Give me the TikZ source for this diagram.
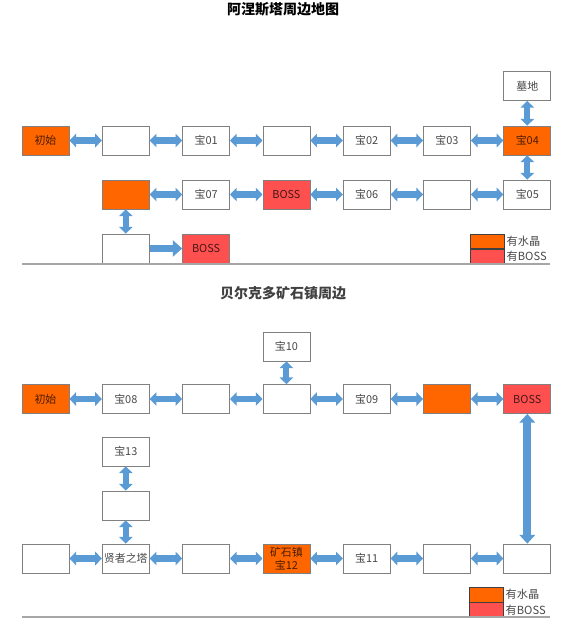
\documentclass[tikz,border=0pt]{standalone}
\usepackage{fontspec}
\usepackage{tikz}
\usetikzlibrary{arrows.meta}
\newfontfamily\cjk{Noto Sans CJK SC}
\definecolor{crystal}{HTML}{FF6600}
\definecolor{bossred}{HTML}{FF5050}
\definecolor{linkblue}{HTML}{5B9BD5}
\definecolor{boxgray}{HTML}{808080}
\definecolor{floorgray}{HTML}{A6A6A6}
\definecolor{titlegray}{HTML}{404040}

\begin{document}
\begin{tikzpicture}[x=0.75pt, y=-0.75pt,
  room/.style={draw=boxgray, line width=0.6pt, fill=white, minimum width=35.25pt, minimum height=21.75pt, inner sep=0pt, font=\cjk\fontsize{8.2}{10}\selectfont, text=black, text opacity=0.72},
  gem/.style={room, fill=crystal},
  boss/.style={room, fill=bossred},
  keybox/.style={draw=titlegray, line width=0.6pt, minimum width=25.5pt, minimum height=10.8pt, inner sep=0pt},
  keytext/.style={anchor=west, inner sep=0pt, font=\cjk\fontsize{8.4}{10}\selectfont, text=black, text opacity=0.72},
  maptitle/.style={font=\cjk\bfseries\fontsize{10.5}{12}\selectfont},
  link/.style={draw=linkblue, line width=4.6pt, {Triangle[width=10pt,length=5pt]}-{Triangle[width=10pt,length=5pt]}},
  push/.style={draw=linkblue, line width=5.4pt, -{Triangle[width=12pt,length=7pt]}},
  bigLink/.style={draw=linkblue, line width=6pt, {Triangle[width=11.5pt,length=6.5pt]}-{Triangle[width=11.5pt,length=6.5pt]}},
  floor/.style={draw=floorgray, line width=1.5pt}]

\useasboundingbox (0,0) rectangle (582,622);

% first map
\node[maptitle] (title1) at (283,9) {阿涅斯塔周边地图};

\node[room] (grave) at (527.3,86) {墓地};

\node[gem]  (a0) at (45.5,140.5) {初始};
\node[room] (a1) at (125.8,140.5) {};
\node[room] (a2) at (206.1,140.5) {宝01};
\node[room] (a3) at (286.4,140.5) {};
\node[room] (a4) at (366.7,140.5) {宝02};
\node[room] (a5) at (447,140.5) {宝03};
\node[gem]  (a6) at (527.3,140.5) {宝04};

\node[gem]  (b1) at (125.8,194.5) {};
\node[room] (b2) at (206.1,194.5) {宝07};
\node[boss] (b3) at (286.4,194.5) {BOSS};
\node[room] (b4) at (366.7,194.5) {宝06};
\node[room] (b5) at (447,194.5) {};
\node[room] (b6) at (527.3,194.5) {宝05};

\node[room] (c1) at (125.8,248.5) {};
\node[boss] (c2) at (206.1,248.5) {BOSS};

\foreach \p/\q in {a0/a1, a1/a2, a2/a3, a3/a4, a4/a5, a5/a6, grave/a6, a6/b6,
                   b6/b5, b5/b4, b4/b3, b3/b2, b2/b1, b1/c1}
  \draw[link] (\p) -- (\q);
\draw[push] (c1) -- (c2);

\node[keybox, fill=crystal] (gemkey1) at (487,241.3) {};
\node[keybox, fill=bossred, anchor=north] (bosskey1) at (gemkey1.south) {};
\node[keytext] at ([xshift=1.5pt]gemkey1.east) {有水晶};
\node[keytext] at ([xshift=1.5pt]bosskey1.east) {有BOSS};

\coordinate (floorL1) at (22,264);
\coordinate (floorR1) at (550,264);
\draw[floor] (floorL1) -- (floorR1);

% second map
\node[maptitle, text=titlegray] (title2) at (283,293) {贝尔克多矿石镇周边};

\node[room] (t10) at (286.4,346.5) {宝10};

\node[gem]  (d0) at (45.5,399) {初始};
\node[room] (d1) at (125.8,399) {宝08};
\node[room] (d2) at (206.1,399) {};
\node[room] (d3) at (286.4,399) {};
\node[room] (d4) at (366.7,399) {宝09};
\node[gem]  (d5) at (447,399) {};
\node[boss] (d6) at (527.3,399) {BOSS};

\node[room] (t13) at (125.8,451.5) {宝13};
\node[room] (e1) at (125.8,505.5) {};

\node[room] (g0) at (45.5,558.5) {};
\node[room] (g1) at (125.8,558.5) {贤者之塔};
\node[room] (g2) at (206.1,558.5) {};
\node[gem, align=center, font=\cjk\fontsize{8.2}{10.2}\selectfont] (g3) at (286.4,558.5) {矿石镇\\宝12};
\node[room] (g4) at (366.7,558.5) {宝11};
\node[room] (g5) at (447,558.5) {};
\node[room] (g6) at (527.3,558.5) {};

\foreach \p/\q in {d0/d1, d1/d2, d2/d3, d3/d4, d4/d5, d5/d6, t10/d3,
                   t13/e1, e1/g1, g0/g1, g1/g2, g2/g3, g3/g4, g4/g5, g5/g6}
  \draw[link] (\p) -- (\q);
\draw[bigLink] (d6) -- (g6);

\node[keybox, fill=crystal] (gemkey2) at (486,594.7) {};
\node[keybox, fill=bossred, anchor=north] (bosskey2) at (gemkey2.south) {};
\node[keytext] at ([xshift=1.5pt]gemkey2.east) {有水晶};
\node[keytext] at ([xshift=1.5pt]bosskey2.east) {有BOSS};

\coordinate (floorL2) at (22,617);
\coordinate (floorR2) at (550,617);
\draw[floor] (floorL2) -- (floorR2);
\end{tikzpicture}
\end{document}
